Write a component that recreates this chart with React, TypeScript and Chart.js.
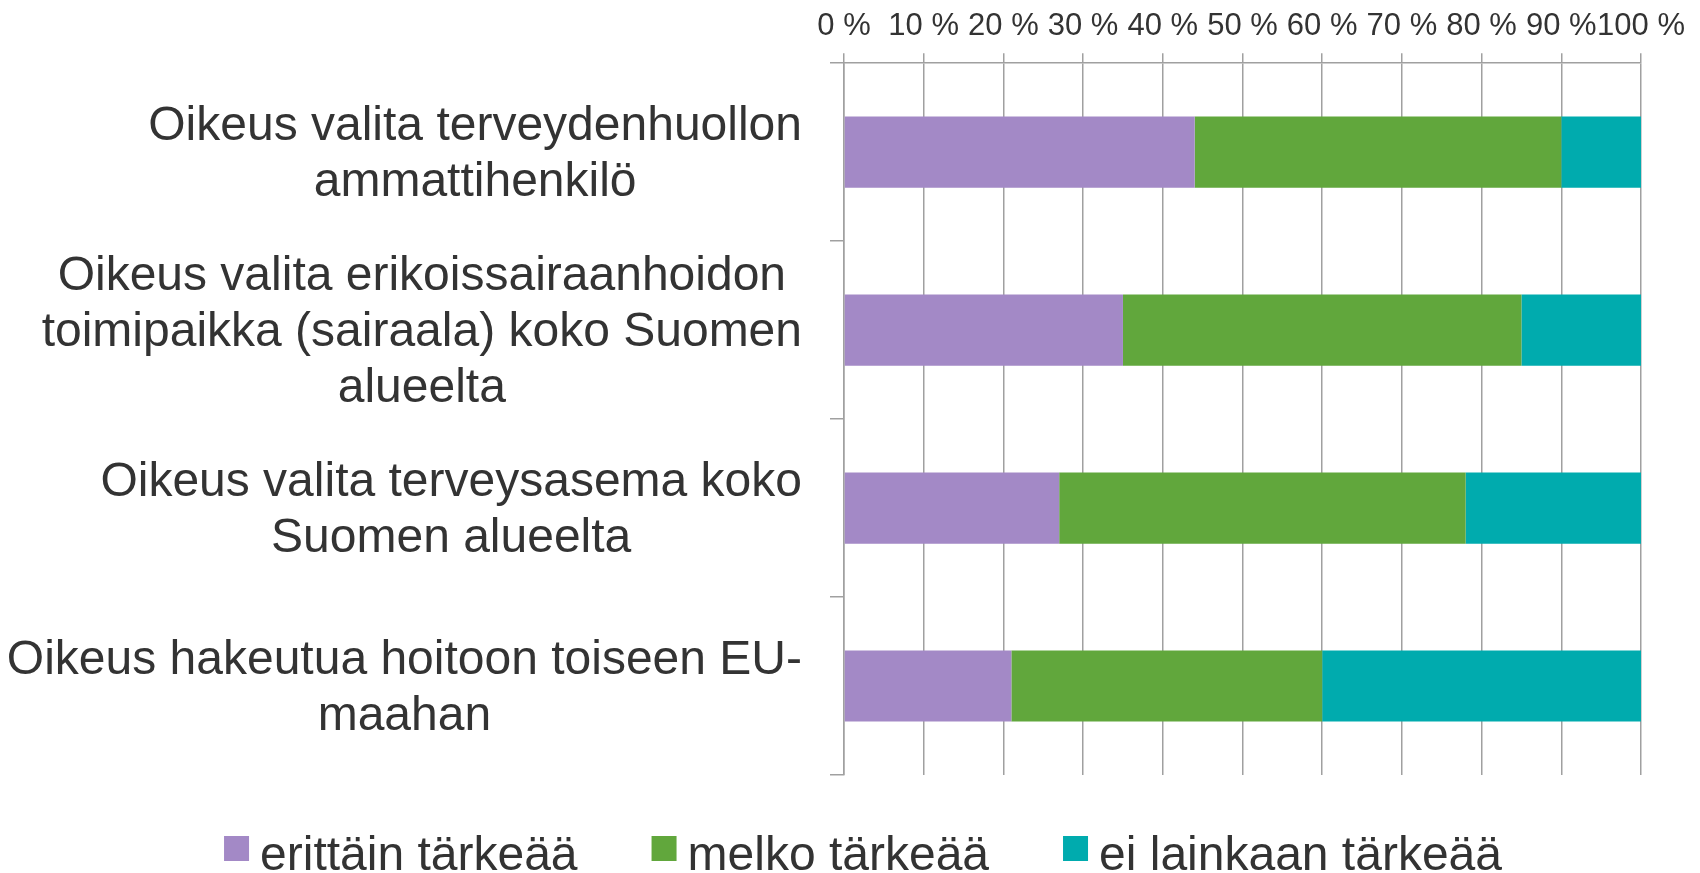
import React, { useEffect, useRef } from "react";
import { Chart, registerables } from "chart.js";

Chart.register(...registerables);

const categories: string[][] = [
  ["Oikeus valita terveydenhuollon", "ammattihenkilö"],
  ["Oikeus valita erikoissairaanhoidon", "toimipaikka (sairaala) koko Suomen", "alueelta"],
  ["Oikeus valita terveysasema koko", "Suomen alueelta"],
  ["Oikeus hakeutua hoitoon toiseen EU-", "maahan"],
];
const erittainTarkeaa = [44, 35, 27, 21];
const melkoTarkeaa = [46, 50, 51, 39];
const eiLainkaanTarkeaa = [10, 15, 22, 40];
const seriesNames = ["erittäin tärkeää", "melko tärkeää", "ei lainkaan tärkeää"];
const seriesColors = ["#A389C6", "#61A73C", "#00ABAE"];
const tickSuffix = " %";

const FONT = '"Liberation Sans", Arial, sans-serif';
const TEXT = "#333333";
const GRID = "#a0a0a0";

const yLabelPlugin = {
  id: "yLabelPlugin",
  afterDraw(chart: any) {
    const ctx = chart.ctx;
    const y = chart.scales.y;
    ctx.save();
    ctx.font = `48px ${FONT}`;
    ctx.fillStyle = TEXT;
    ctx.textAlign = "center";
    ctx.textBaseline = "middle";
    const right = chart.chartArea.left - 42;
    categories.forEach((lines, i) => {
      const cy = y.getPixelForValue(i);
      const maxW = Math.max(...lines.map((l) => ctx.measureText(l).width));
      const cx = right - maxW / 2;
      lines.forEach((l, j) => {
        ctx.fillText(l, cx, cy + (j - (lines.length - 1) / 2) * 56 + 3);
      });
    });
    ctx.restore();
  },
};

const legendPlugin = {
  id: "customLegend",
  afterDraw(chart: any) {
    const ctx = chart.ctx;
    ctx.save();
    ctx.font = `48px ${FONT}`;
    const box = 25;
    const gap = 11;
    const itemGap = 74;
    const ds = chart.data.datasets;
    const widths = ds.map((d: any) => box + gap + ctx.measureText(d.label).width);
    const total = widths.reduce((a: number, b: number) => a + b, 0) + itemGap * (ds.length - 1);
    let x = chart.width / 2 + 13 - total / 2;
    const boxTop = 836;
    const baseline = 870;
    ds.forEach((d: any, i: number) => {
      ctx.fillStyle = d.backgroundColor;
      ctx.fillRect(x, boxTop, box, box);
      ctx.fillStyle = TEXT;
      ctx.textAlign = "left";
      ctx.textBaseline = "alphabetic";
      ctx.fillText(d.label, x + box + gap, baseline);
      x += widths[i] + itemGap;
    });
    ctx.restore();
  },
};

export default function App() {
  const ref = useRef<HTMLCanvasElement | null>(null);
  useEffect(() => {
    if (!ref.current) return;
    const chart = new Chart(ref.current, {
      type: "bar",
      data: {
        labels: categories,
        datasets: [
          { label: seriesNames[0], data: erittainTarkeaa, backgroundColor: seriesColors[0] },
          { label: seriesNames[1], data: melkoTarkeaa, backgroundColor: seriesColors[1] },
          { label: seriesNames[2], data: eiLainkaanTarkeaa, backgroundColor: seriesColors[2] },
        ].map((d) => ({ ...d, borderWidth: 0, barPercentage: 0.4, categoryPercentage: 1 })),
      },
      options: {
        indexAxis: "y",
        responsive: false,
        animation: false,
        layout: { padding: { top: 0, left: 830, right: 59, bottom: 98 } },
        plugins: {
          legend: { display: false },
          tooltip: { enabled: false },
        },
        scales: {
          x: {
            position: "top",
            stacked: true,
            min: 0,
            max: 100,
            grid: { color: GRID, lineWidth: 1.5, tickLength: 10, drawTicks: true },
            border: { display: true, color: GRID, width: 1.5 },
            ticks: {
              stepSize: 10,
              autoSkip: false,
              maxRotation: 0,
              padding: 8,
              color: TEXT,
              font: { size: 31, family: FONT },
              callback: (v: any) => `${v}${tickSuffix}`,
            },
          },
          y: {
            stacked: true,
            grid: {
              offset: true,
              drawOnChartArea: false,
              drawTicks: true,
              tickLength: 14,
              color: GRID,
              lineWidth: 1.5,
            },
            border: { display: true, color: GRID, width: 1.5 },
            ticks: { display: false },
          },
        },
      } as any,
      plugins: [yLabelPlugin, legendPlugin],
    });
    return () => chart.destroy();
  }, []);
  return (
    <canvas
      ref={ref}
      width={1700}
      height={873}
      style={{ position: "fixed", left: 0, top: 0, display: "block", background: "#fff" }}
    />
  );
}
